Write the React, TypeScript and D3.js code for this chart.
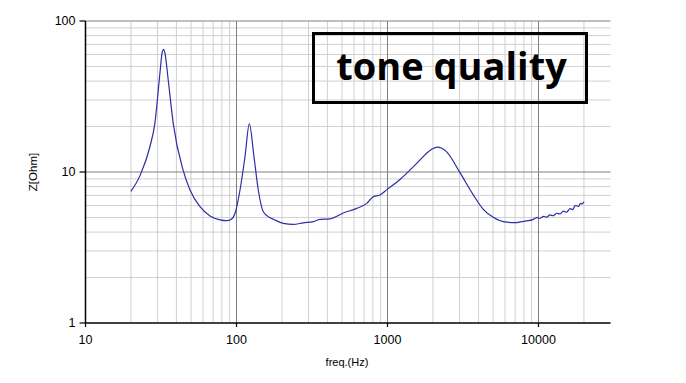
import React from "react";
import * as d3 from "d3";

const freqs: number[] = [
  20, 23, 26.7, 28.8, 31.1, 32.2, 32.9, 33.6, 35.3, 38.1, 44.4, 49.2, 57.3, 66.8, 77.8, 86.1, 92, 97.8,
  105.5, 113.8, 121.6, 130.6, 139.4, 150.5, 166.7, 175.5, 204, 238, 277, 323, 357, 416, 510, 625, 728,
  805, 892, 1000, 1211, 1561, 1912, 2138, 2466, 3020, 3700, 4310, 5020, 5850, 6982, 7737, 8556, 9247,
  9730, 10233, 10770, 11330, 11920, 12540, 13200, 13880, 14600, 15370, 16200, 16900, 17450, 18360,
  19000, 19500, 20000,
];
const impedance: number[] = [
  7.45, 9.5, 14.7, 21, 45, 62, 65, 61, 40.7, 21, 10.2, 7.6, 5.89, 5.11, 4.82, 4.76, 4.85, 5.33,
  7.6, 12.6, 20.8, 12.6, 7.6, 5.46, 4.98, 4.86, 4.57, 4.5, 4.61, 4.69, 4.86, 4.9, 5.35, 5.74, 6.2,
  6.86, 7.04, 7.7, 8.93, 11.4, 13.9, 14.6, 13.6, 9.9, 7.05, 5.66, 5.01, 4.69, 4.62, 4.69, 4.76, 4.86,
  4.98, 4.93, 5.08, 5.02, 5.2, 5.13, 5.33, 5.27, 5.5, 5.42, 5.72, 5.64, 6.0, 5.92,
  6.2, 6.15, 6.35,
];

const xTickLabels: number[] = [10, 100, 1000, 10000];
const yTickLabels: number[] = [1, 10, 100];
const xMinorGrid: number[] = [
  20, 30, 40, 50, 60, 70, 80, 90, 200, 300, 400, 500, 600, 700, 800, 900,
  2000, 3000, 4000, 5000, 6000, 7000, 8000, 9000, 20000,
];
const yMinorGrid: number[] = [2, 3, 4, 5, 6, 7, 8, 9, 20, 30, 40, 50, 60, 70, 80, 90];

const title = "tone quality";
const xLabel = "freq.(Hz)";
const yLabel = "Z[Ohm]";

const W = 686;
const H = 383;
const X0 = 85.5;
const DEC = 151;
const Y1 = 323;

export default function App() {
  const x = d3.scaleLog().domain([10, 30000]).range([X0, X0 + DEC * Math.log10(3000)]);
  const y = d3.scaleLog().domain([1, 100]).range([Y1, Y1 - 2 * DEC]);
  const [xl, xr] = x.range();
  const [yb, yt] = y.range();

  const data = freqs.map((f, i) => [f, impedance[i]] as [number, number]);
  const line = d3
    .line<[number, number]>()
    .x((d) => x(d[0]))
    .y((d) => y(d[1]))
    .curve(d3.curveMonotoneX);

  const font = "'Liberation Sans', Arial, sans-serif";

  return (
    <svg
      width={W}
      height={H}
      style={{ position: "absolute", left: 0, top: 0, display: "block", background: "#fff" }}
    >
      <rect x={0} y={0} width={W} height={H} fill="#fff" />
      {/* minor grid */}
      {xMinorGrid.map((v) => (
        <line key={"xm" + v} x1={x(v)} x2={x(v)} y1={yt} y2={yb} stroke="#d0d0d0" strokeWidth={1} />
      ))}
      {yMinorGrid.map((v) => (
        <line key={"ym" + v} x1={xl} x2={xr} y1={y(v)} y2={y(v)} stroke="#d0d0d0" strokeWidth={1} />
      ))}
      {/* major grid */}
      {xTickLabels.slice(1).map((v) => (
        <line key={"xM" + v} x1={x(v)} x2={x(v)} y1={yt} y2={yb} stroke="#808080" strokeWidth={1} />
      ))}
      {yTickLabels.slice(1).map((v) => (
        <line key={"yM" + v} x1={xl} x2={xr} y1={y(v)} y2={y(v)} stroke="#808080" strokeWidth={1} />
      ))}
      {/* axes */}
      <line x1={xl} x2={xl} y1={yt} y2={yb} stroke="#000" strokeWidth={1.5} />
      <line x1={xl} x2={xr} y1={yb} y2={yb} stroke="#000" strokeWidth={1.5} />
      {yTickLabels.map((v) => (
        <g key={"yt" + v}>
          <line x1={xl - 6} x2={xl} y1={y(v)} y2={y(v)} stroke="#000" strokeWidth={1.2} />
          <text x={xl - 10} y={y(v)} dy="0.35em" textAnchor="end" fontFamily={font} fontSize={12.5} fill="#000">
            {v}
          </text>
        </g>
      ))}
      {xTickLabels.map((v) => (
        <g key={"xt" + v}>
          <line x1={x(v)} x2={x(v)} y1={yb} y2={yb + 4} stroke="#000" strokeWidth={1.2} />
          <text x={x(v)} y={yb + 21} textAnchor="middle" fontFamily={font} fontSize={12.5} fill="#000">
            {v}
          </text>
        </g>
      ))}
      <text x={347} y={366} textAnchor="middle" fontFamily={font} fontSize={11} fill="#000">
        {xLabel}
      </text>
      <text
        transform={`translate(37,${y(10)}) rotate(-90)`}
        textAnchor="middle"
        fontFamily={font}
        fontSize={11.5}
        fill="#000"
      >
        {yLabel}
      </text>
      {/* curve */}
      <path d={line(data) || ""} fill="none" stroke="#2d2da6" strokeWidth={1.2} />
      {/* title box */}
      <rect x={313.5} y={33.5} width={273} height={69} fill="none" stroke="#000" strokeWidth={3} />
      <text
        x={451.5}
        y={80}
        textAnchor="middle"
        fontFamily="'Open Sans', 'Noto Sans', sans-serif"
        fontWeight={700}
        fontSize={38}
        fill="#000"
      >
        {title}
      </text>
    </svg>
  );
}
